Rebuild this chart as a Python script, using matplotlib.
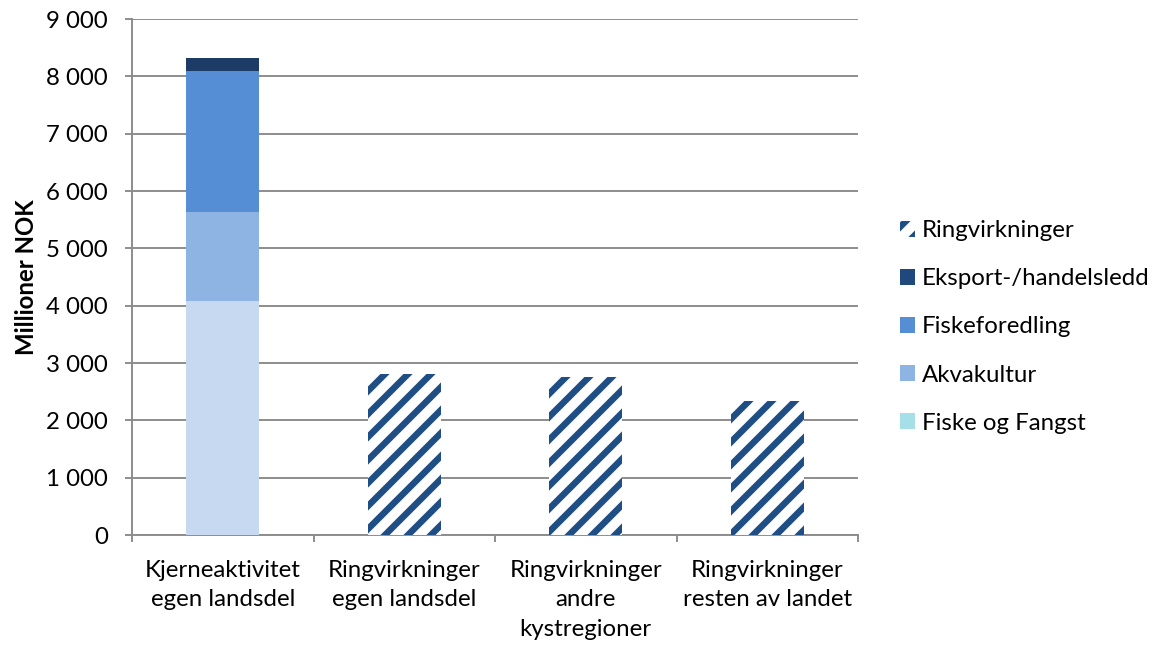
import matplotlib
matplotlib.use("Agg")
import matplotlib.pyplot as plt
import numpy as np
from matplotlib.patches import Patch
from matplotlib.ticker import FuncFormatter, FixedLocator

categories = ["Kjerneaktivitet\negen landsdel", "Ringvirkninger\negen landsdel",
              "Ringvirkninger\nandre\nkystregioner", "Ringvirkninger\nresten av landet"]
fiske_og_fangst = [4090, 0, 0, 0]
akvakultur = [1550, 0, 0, 0]
fiskeforedling = [2460, 0, 0, 0]
eksport = [220, 0, 0, 0]
ringvirkninger = [0, 2800, 2750, 2330]
yticks = [0, 1000, 2000, 3000, 4000, 5000, 6000, 7000, 8000, 9000]

DPI = 138
FS = 12.5
plt.rcParams['font.family'] = ['Lato', 'DejaVu Sans']
plt.rcParams['hatch.linewidth'] = 3.4
plt.rcParams['hatch.color'] = '#1f4e85'

fig = plt.figure(figsize=(1157 / DPI, 649 / DPI), dpi=DPI)
ax = fig.add_axes([132 / 1157, 1 - 535 / 649, (858 - 132) / 1157, (535 - 19) / 649])

x = np.arange(len(categories))
w = 0.40
c_fiske_bar = '#c6d9f1'
c_fiske_leg = '#a5dfe8'
c_akva = '#8eb4e3'
c_fore = '#558ed5'
c_eks = '#1c3b66'
c_eks_leg = '#1f497d'
c_grid = '#8c8c8c'

bottom = np.zeros(len(categories))
for vals, col in [(fiske_og_fangst, c_fiske_bar), (akvakultur, c_akva),
                  (fiskeforedling, c_fore), (eksport, c_eks)]:
    v = np.array(vals, dtype=float)
    ax.bar(x, v, w, bottom=bottom, color=col, linewidth=0, zorder=3)
    bottom += v
ax.bar(x, ringvirkninger, w, color='white', hatch='//', edgecolor='#1f4e85',
       linewidth=0, zorder=3)

ax.set_xlim(-0.5, len(categories) - 0.5)
ax.set_ylim(0, 9000)
ax.yaxis.set_major_locator(FixedLocator(yticks))
ax.yaxis.set_major_formatter(FuncFormatter(lambda v, p: f"{int(v):,}".replace(",", " ")))
ax.grid(axis='y', color=c_grid, linewidth=1.0, zorder=0)
ax.set_axisbelow(True)

for s in ['top', 'right']:
    ax.spines[s].set_visible(False)
for s in ['left', 'bottom']:
    ax.spines[s].set_color(c_grid)
    ax.spines[s].set_linewidth(1.0)

ax.set_xticks(x)
ax.set_xticklabels(categories, fontsize=FS, linespacing=1.5)
ax.tick_params(axis='x', length=0, pad=13)
ax.set_xticks(np.arange(-0.5, len(categories)), minor=True)
ax.tick_params(axis='x', which='minor', length=3.6, color=c_grid, width=1.0)
ax.tick_params(axis='y', length=3.6, color=c_grid, width=1.0, labelsize=FS, pad=9)

ax.set_ylabel("Millioner NOK", fontsize=FS, fontweight='bold', labelpad=4)

handles = [
    Patch(facecolor='white', hatch='//', edgecolor='#1f4e85', linewidth=0, label='Ringvirkninger'),
    Patch(facecolor=c_eks_leg, label='Eksport-/handelsledd'),
    Patch(facecolor=c_fore, label='Fiskeforedling'),
    Patch(facecolor=c_akva, label='Akvakultur'),
    Patch(facecolor=c_fiske_leg, label='Fiske og Fangst'),
]
fig.legend(handles=handles, loc='center left', bbox_to_anchor=(900 / 1157, 1 - 327 / 649),
           frameon=False, fontsize=FS, handlelength=0.62, handleheight=0.62,
           handletextpad=0.3, labelspacing=1.13, borderpad=0, borderaxespad=0)

fig.savefig("out.png", dpi=DPI)
